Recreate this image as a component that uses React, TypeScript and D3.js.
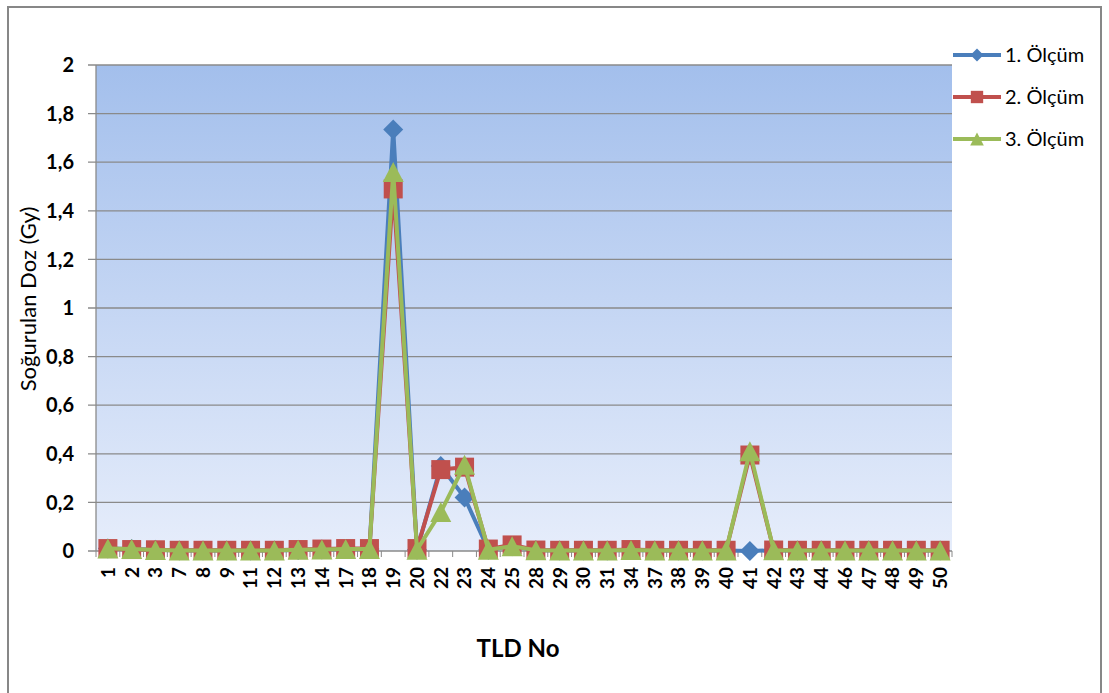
import React from "react";
import * as d3 from "d3";

const categories = ["1","2","3","7","8","9","11","12","13","14","17","18","19","20","22","23","24","25","28","29","30","31","34","37","38","39","40","41","42","43","44","46","47","48","49","50"];
const olcum1 = [0.01,0.008,0.005,0.002,0.002,0.002,0.002,0.002,0.004,0.006,0.008,0.008,1.735,0.005,0.35,0.22,0.005,0.02,0.003,0.002,0.002,0.002,0.004,0.002,0.002,0.002,0.002,0.0,0.003,0.002,0.002,0.002,0.002,0.002,0.002,0.002];
const olcum2 = [0.01,0.006,0.005,0.003,0.003,0.003,0.003,0.003,0.006,0.008,0.01,0.01,1.49,0.01,0.335,0.345,0.008,0.025,0.004,0.003,0.003,0.003,0.006,0.003,0.003,0.003,0.003,0.395,0.004,0.003,0.003,0.003,0.003,0.003,0.003,0.003];
const olcum3 = [0.01,0.008,0.004,0.002,0.002,0.002,0.002,0.002,0.005,0.006,0.008,0.008,1.56,0.005,0.16,0.355,0.005,0.02,0.003,0.002,0.002,0.002,0.004,0.002,0.002,0.002,0.002,0.41,0.003,0.002,0.002,0.002,0.002,0.002,0.002,0.002];
const yTicks = [0,0.2,0.4,0.6,0.8,1,1.2,1.4,1.6,1.8,2];
const seriesNames = ["1. Ölçüm","2. Ölçüm","3. Ölçüm"];
const seriesColors = ["#4a7ebb","#c0504d","#9bbb59"];

const W = 1109, H = 693;
const left = 96, right = 952, top = 65, bottom = 551;

function Marker({ kind, x, y, color, s = 1 }: { kind: number; x: number; y: number; color: string; s?: number }) {
  if (kind === 0) {
    const r = 10 * s;
    return <path d={`M${x},${y - r}L${x + r},${y}L${x},${y + r}L${x - r},${y}Z`} fill={color} />;
  }
  if (kind === 1) {
    const h = 9.5 * s;
    return <rect x={x - h} y={y - h} width={2 * h} height={2 * h} fill={color} />;
  }
  const w = 10.5 * s, hh = 10 * s;
  return <path d={`M${x},${y - hh}L${x + w},${y + hh}L${x - w},${y + hh}Z`} fill={color} />;
}

export default function App() {
  const x = d3.scaleBand<string>().domain(categories).range([left, right]);
  const y = d3.scaleLinear().domain([0, 2]).range([bottom, top]);
  const cx = (c: string) => (x(c) as number) + x.bandwidth() / 2;
  const data = [olcum1, olcum2, olcum3];
  const line = d3.line<number>().x((_, i) => cx(categories[i])).y((d) => y(d));
  const font = "Lato, 'Open Sans', sans-serif";
  return (
    <svg width={W} height={H} style={{ position: "absolute", left: 0, top: 0 }} fontFamily={font}>
      <defs>
        <linearGradient id="bg" x1="0" y1="0" x2="0" y2="1">
          <stop offset="0" stopColor="#a3bfec" />
          <stop offset="1" stopColor="#e6edfb" />
        </linearGradient>
      </defs>
      <rect x={0} y={0} width={W} height={H} fill="#fff" />
      <rect x={8} y={7} width={1093} height={700} fill="#fff" stroke="#878787" strokeWidth={2} />
      <rect x={left} y={top} width={right - left} height={bottom - top} fill="url(#bg)" />
      {yTicks.map((t) => (
        <g key={t}>
          <line x1={left - 8} x2={right} y1={y(t)} y2={y(t)} stroke="#8a8a8a" strokeWidth={1.3} />
          <text x={74} y={y(t)} dy="0.36em" textAnchor="end" fontSize={20} fontWeight="bold" fill="#000">
            {String(t).replace(".", ",")}
          </text>
        </g>
      ))}
      <line x1={left} x2={left} y1={top} y2={bottom} stroke="#8a8a8a" strokeWidth={1.3} />
      {categories.map((c, i) => (
        <g key={c}>
          <line x1={x(c) as number} x2={x(c) as number} y1={bottom} y2={bottom + 6} stroke="#8a8a8a" strokeWidth={1} />
          {i === categories.length - 1 && (
            <line x1={right} x2={right} y1={bottom} y2={bottom + 6} stroke="#8a8a8a" strokeWidth={1} />
          )}
          <text transform={`translate(${cx(c)},${bottom + 16}) rotate(-90)`} dy="0.36em" textAnchor="end" fontSize={19} fontWeight="bold" fill="#000">
            {c}
          </text>
        </g>
      ))}
      {data.map((s, k) => (
        <g key={k}>
          <path d={line(s) as string} fill="none" stroke={seriesColors[k]} strokeWidth={4} strokeLinejoin="round" />
          {s.map((v, i) => (
            <Marker key={i} kind={k} x={cx(categories[i])} y={y(v)} color={seriesColors[k]} />
          ))}
        </g>
      ))}
      <text x={518} y={657} textAnchor="middle" fontSize={24} fontWeight="bold">TLD No</text>
      <text transform={`translate(36,299) rotate(-90)`} textAnchor="middle" fontSize={22}>Soğurulan Doz (Gy)</text>
      {seriesNames.map((n, k) => {
        const ly = 55 + k * 42;
        return (
          <g key={n}>
            <line x1={953} x2={1001} y1={ly} y2={ly} stroke={seriesColors[k]} strokeWidth={4} />
            <Marker kind={k} x={977} y={ly} color={seriesColors[k]} s={0.65} />
            <text x={1005} y={ly} dy="0.36em" fontSize={20} fill="#000">{n}</text>
          </g>
        );
      })}
    </svg>
  );
}
